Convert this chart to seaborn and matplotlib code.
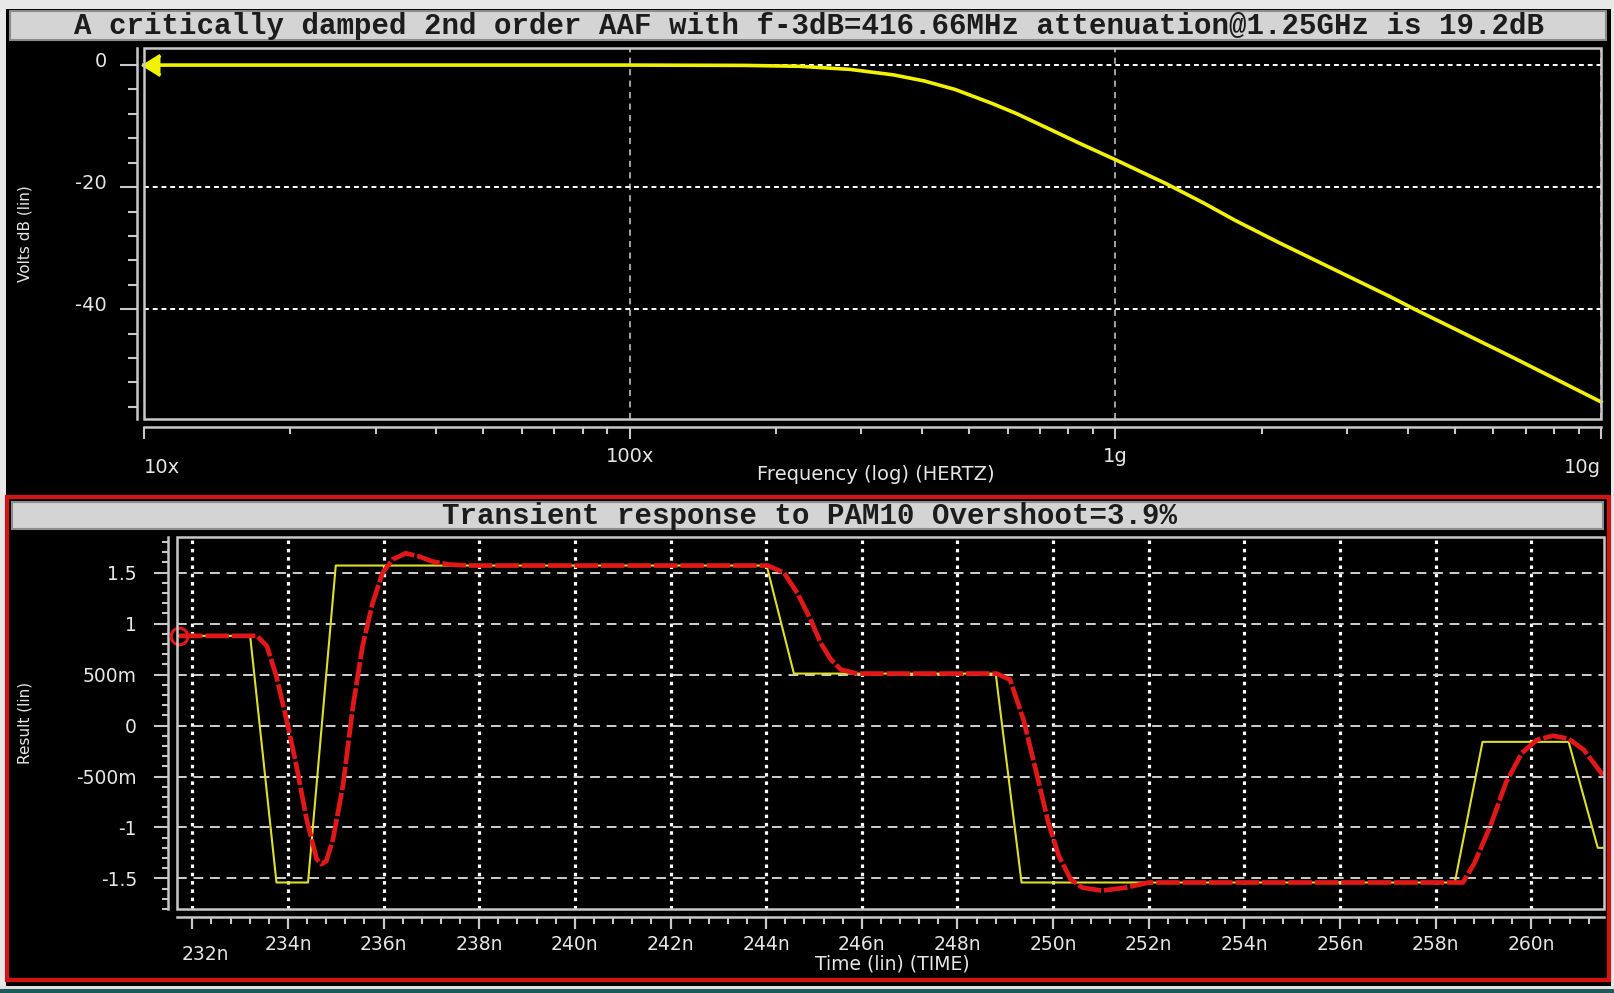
import matplotlib
matplotlib.use("Agg")
import matplotlib.pyplot as plt
import seaborn as sns
import pandas as pd
from matplotlib.patches import Rectangle
from matplotlib.ticker import FixedLocator, NullFormatter
from matplotlib.transforms import ScaledTranslation

# ---------------- data ----------------
title_ac = "A critically damped 2nd order AAF with f-3dB=416.66MHz attenuation@1.25GHz is 19.2dB"
title_tr = "Transient response to PAM10 Overshoot=3.9%"

ac_freq_hz = [1.0e7, 1.0e8, 1.72e8, 2.24e8, 2.84e8, 3.49e8, 4.04e8, 4.68e8, 5.58e8,
              6.28e8, 7.28e8, 8.43e8, 1.0e9, 1.13e9, 1.27e9, 1.52e9, 1.76e9, 2.16e9,
              2.74e9, 3.67e9, 4.13e9, 4.93e9, 6.62e9, 1.0e10]
ac_gain_db = [0.0, 0.0, -0.05, -0.2, -0.7, -1.6, -2.6, -4.0, -6.3,
              -8.0, -10.4, -12.8, -15.5, -17.5, -19.4, -22.6, -25.4, -29.0,
              -33.0, -37.9, -40.0, -43.0, -48.0, -55.2]
freq_major = [1e7, 1e8, 1e9, 1e10]
freq_labels = ["10x", "100x", "1g", "10g"]
db_major = [0, -20, -40]
db_labels = ["0", "-20", "-40"]
db_minor = [-56, -52, -48, -44, -36, -32, -28, -24, -16, -12, -8, -4]

in_time_ns = [231.70, 233.21, 233.76, 234.42, 235.00, 244.01, 244.58, 248.80, 249.34,
              258.40, 258.98, 260.78, 261.39, 261.60]
in_volts = [0.88, 0.88, -1.54, -1.54, 1.57, 1.57, 0.51, 0.51, -1.54,
            -1.54, -0.16, -0.16, -1.20, -1.20]

out_time_ns = [231.72, 233.35, 233.56, 233.76, 233.97, 234.18, 234.39, 234.60, 234.70,
               234.80, 234.94, 235.15, 235.36, 235.56, 235.77, 235.98, 236.19, 236.46,
               236.74, 237.02, 237.36, 237.80, 244.03, 244.37, 244.65, 244.93, 245.14,
               245.35, 245.56, 245.90, 248.82, 249.10, 249.38, 249.65, 249.90, 250.12,
               250.37, 250.61, 251.02, 251.52, 252.00, 258.57, 258.81, 259.14, 259.47,
               259.80, 260.12, 260.45, 260.78, 261.10, 261.52]
out_volts = [0.88, 0.88, 0.78, 0.48, 0.06, -0.40, -0.92, -1.31, -1.36,
             -1.33, -1.12, -0.59, 0.19, 0.78, 1.20, 1.50, 1.63, 1.69,
             1.66, 1.61, 1.58, 1.57, 1.57, 1.50, 1.30, 1.04, 0.81,
             0.65, 0.55, 0.51, 0.51, 0.45, 0.06, -0.46, -0.95, -1.28,
             -1.51, -1.59, -1.62, -1.59, -1.54, -1.54, -1.35, -0.99, -0.56,
             -0.27, -0.14, -0.10, -0.13, -0.24, -0.50]

t_major = list(range(232, 261, 2))
t_labels = [f"{t}n" for t in t_major]
t_minor = [round(232 + 0.4 * k, 2) for k in range(-1, 75) if (k % 5) != 0]
v_major = [-1.5, -1.0, -0.5, 0.0, 0.5, 1.0, 1.5]
v_labels = ["-1.5", "-1", "-500m", "0", "500m", "1", "1.5"]
v_minor = [round(-1.8 + 0.1 * k, 2) for k in range(0, 37)]

# ---------------- figure ----------------
W, H = 1614, 993
fig = plt.figure(figsize=(W / 100, H / 100), dpi=100)
fig.patch.set_facecolor("black")
ink = "#e6e6e6"
frame_c = "#c8c8c8"
TF = ["DejaVu Sans"]


def fx(x):
    return x / W


def fy(y):
    return 1 - y / H


def frect(x0, y0, x1, y1, **kw):
    r = Rectangle((fx(x0), fy(y1)), (x1 - x0) / W, (y1 - y0) / H,
                  transform=fig.transFigure, **kw)
    fig.patches.append(r)
    return r


# outer strips
frect(0, 0, 6, H, facecolor="#e8e8e8", edgecolor="none")
frect(0, 0, W, 9, facecolor="#e8e8e8", edgecolor="none")
frect(1611, 0, W, H, facecolor="#e8e8e8", edgecolor="none")
frect(0, 986, W, 989, facecolor="#e0e0e0", edgecolor="none")
frect(0, 989, W, H, facecolor="#1d5a5a", edgecolor="none")

# title bars
frect(10, 11, 1606, 40, facecolor="#d4d4d4", edgecolor="#8c8c8c", lw=1.5)
fig.text(fx(809), fy(25.5), title_ac, ha="center", va="center",
         family=["Liberation Mono", "DejaVu Sans Mono"], weight="bold",
         fontsize=21, color="#1c1c1c")

# red border around transient panel
frect(7, 497, 1609, 980, fill=False, edgecolor="#d41414", lw=3)
frect(12, 502, 1603, 529, facecolor="#d4d4d4", edgecolor="#8c8c8c", lw=1.5)
fig.text(fx(810), fy(515.5), title_tr, ha="center", va="center",
         family=["Liberation Mono", "DejaVu Sans Mono"], weight="bold",
         fontsize=21, color="#1c1c1c")


def style_axes(ax, left_out_px, bottom_out_px):
    ax.set_facecolor("black")
    for s in ("top", "right"):
        ax.spines[s].set_visible(False)
    for s, o in (("left", left_out_px), ("bottom", bottom_out_px)):
        ax.spines[s].set_position(("outward", o * 0.72))
        ax.spines[s].set_color(frame_c)
        ax.spines[s].set_linewidth(1.8)
    ax.add_patch(Rectangle((0, 0), 1, 1, transform=ax.transAxes, fill=False,
                           edgecolor=frame_c, lw=1.8, clip_on=False, zorder=6))
    ax.set_axisbelow(True)


# ---------------- AC plot ----------------
ax1 = fig.add_axes([fx(144), fy(419), (1601 - 144) / W, (419 - 48) / H])
style_axes(ax1, 7, 8)
ax1.set_xscale("log")
ax1.set_xlim(1e7, 1e10)
ax1.set_ylim(-58.0, 2.8)

df_ac = pd.DataFrame({"freq": ac_freq_hz, "db": ac_gain_db})
sns.lineplot(data=df_ac, x="freq", y="db", ax=ax1, estimator=None, sort=False,
             color="#f2f200", lw=2.6, marker=4, markevery=[0], ms=15, mew=2.5,
             mec="#f2f200", clip_on=False, zorder=4)

ax1.xaxis.set_major_locator(FixedLocator(freq_major))
ax1.xaxis.set_minor_locator(FixedLocator([k * 10 ** d for d in (7, 8, 9) for k in range(2, 10)]))
ax1.xaxis.set_minor_formatter(NullFormatter())
ax1.set_xticks(freq_major, freq_labels)
ax1.set_yticks(db_major, db_labels)
ax1.yaxis.set_minor_locator(FixedLocator(db_minor))

ax1.tick_params(axis="y", which="major", direction="out", length=17 * 0.72, width=1.5,
                color=frame_c, labelcolor=ink, labelsize=14, pad=13 * 0.72)
ax1.tick_params(axis="y", which="minor", direction="out", length=9 * 0.72, width=1.5,
                color=frame_c)
ax1.tick_params(axis="x", which="major", direction="out", length=12 * 0.72, width=1.5,
                color=frame_c, labelcolor=ink, labelsize=14, pad=8 * 0.72)
ax1.tick_params(axis="x", which="minor", direction="out", length=7 * 0.72, width=1.5,
                color=frame_c)

ax1.grid(axis="y", which="major", color="white", lw=1.4, ls=(0, (2.5, 2)))
ax1.grid(axis="x", which="major", color="#d0d0d0", lw=1.1, ls=(0, (4, 3.5)))

for lbl in ax1.get_yticklabels():
    lbl.set_family(TF)
    lbl.set_transform(lbl.get_transform() + ScaledTranslation(0, 6 / 100, fig.dpi_scale_trans))
xl = ax1.get_xticklabels()
for lbl in xl:
    lbl.set_family(TF)
xl[0].set_horizontalalignment("left")
xl[-1].set_horizontalalignment("right")
for i in (0, -1):
    xl[i].set_transform(xl[i].get_transform() + ScaledTranslation(0, -11 / 100, fig.dpi_scale_trans))

ax1.set_xlabel("Frequency (log) (HERTZ)", color=ink, fontsize=14, family=TF)
ax1.xaxis.set_label_coords((876 - 144) / (1601 - 144), (419 - 475) / (419 - 48))
ax1.xaxis.label.set_va("center")
ax1.set_ylabel("Volts dB (lin)", color=ink, fontsize=11, family=TF)
ax1.yaxis.set_label_coords((25 - 144) / (1601 - 144), (419 - 234) / (419 - 48))
ax1.yaxis.label.set_va("center")

# ---------------- transient plot ----------------
ax2 = fig.add_axes([fx(177), fy(909), (1604 - 177) / W, (909 - 537) / H])
style_axes(ax2, 9, 8)
ax2.set_xlim(231.68, 261.52)
ax2.set_ylim(-1.80, 1.85)

df_in = pd.DataFrame({"t": in_time_ns, "v": in_volts})
df_out = pd.DataFrame({"t": out_time_ns, "v": out_volts})
sns.lineplot(data=df_in, x="t", y="v", ax=ax2, estimator=None, sort=False,
             color="#dede2c", lw=1.5, zorder=3)
sns.lineplot(data=df_out, x="t", y="v", ax=ax2, estimator=None, sort=False,
             color="#e01818", lw=3.4, ls=(0, (5, 0.6)), zorder=4,
             marker="o", markevery=[0], ms=12, mfc="none", mec="#e01818", mew=2.2,
             clip_on=False)

ax2.set_xticks(t_major, t_labels)
ax2.xaxis.set_minor_locator(FixedLocator(t_minor))
ax2.set_yticks(v_major, v_labels)
ax2.yaxis.set_minor_locator(FixedLocator([v for v in v_minor if round(v * 2) != v * 2]))

ax2.tick_params(axis="y", which="major", direction="out", length=14 * 0.72, width=1.5,
                color=frame_c, labelcolor=ink, labelsize=13.5, pad=17 * 0.72)
ax2.tick_params(axis="y", which="minor", direction="out", length=6 * 0.72, width=1.5,
                color=frame_c)
ax2.tick_params(axis="x", which="major", direction="out", length=12 * 0.72, width=1.6,
                color=frame_c, labelcolor=ink, labelsize=13.5, pad=6 * 0.72)
ax2.tick_params(axis="x", which="minor", direction="out", length=7 * 0.72, width=1.5,
                color=frame_c)

ax2.grid(axis="y", which="major", color="#cfcfcf", lw=1.4, ls=(0, (5, 3.5)))
ax2.grid(axis="x", which="major", color="white", lw=2.3, ls=(0, (1.1, 1.5)))

for lbl in ax2.get_yticklabels():
    lbl.set_family(TF)
x2l = ax2.get_xticklabels()
for lbl in x2l:
    lbl.set_family(TF)
x2l[0].set_transform(x2l[0].get_transform() +
                     ScaledTranslation(13 / 100, -10 / 100, fig.dpi_scale_trans))

ax2.set_xlabel("Time (lin) (TIME)", color=ink, fontsize=13.5, family=TF)
ax2.xaxis.set_label_coords((892 - 177) / (1604 - 177), (909 - 964) / (909 - 537))
ax2.xaxis.label.set_va("center")
ax2.set_ylabel("Result (lin)", color=ink, fontsize=11, family=TF)
ax2.yaxis.set_label_coords((25 - 177) / (1604 - 177), (909 - 723) / (909 - 537))
ax2.yaxis.label.set_va("center")

fig.savefig("out.png", dpi=100, facecolor=fig.get_facecolor())
